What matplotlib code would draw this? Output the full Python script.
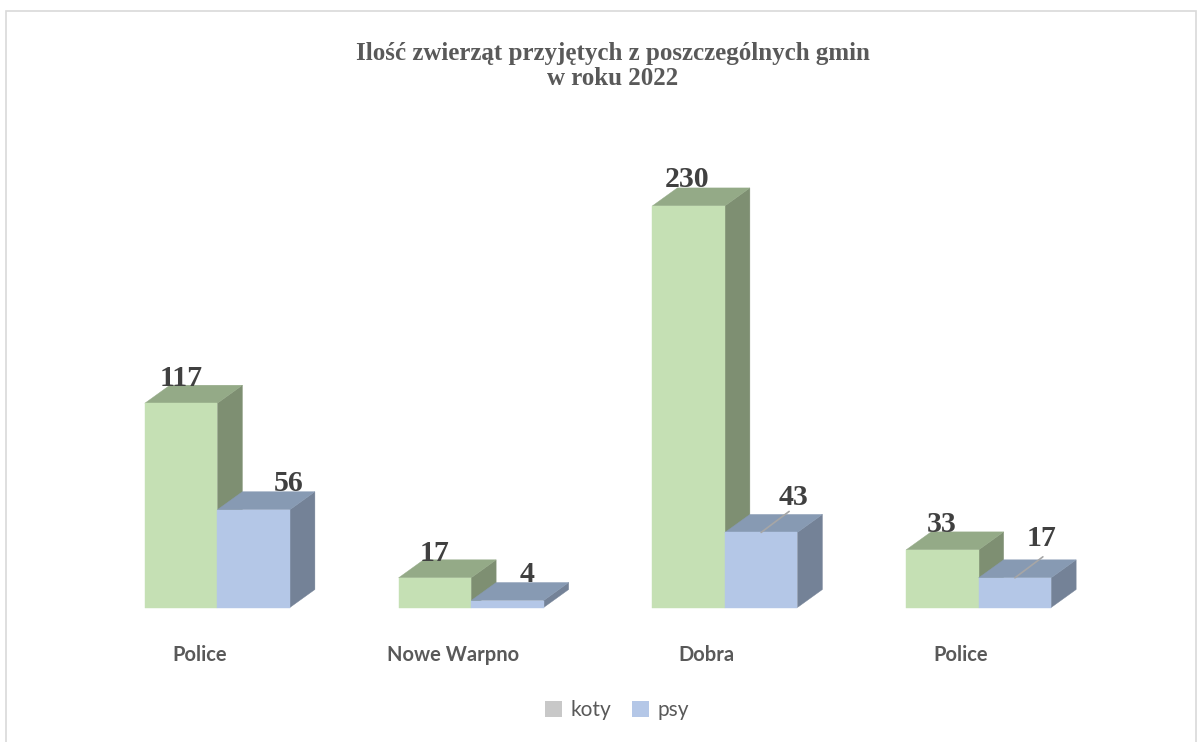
import matplotlib
matplotlib.use("Agg")
import matplotlib.pyplot as plt
from matplotlib.patches import Polygon, Patch, Rectangle
from matplotlib.transforms import ScaledTranslation

gminy = ["Police", "Nowe Warpno", "Dobra", "Police"]
koty = [117, 17, 230, 33]
psy = [56, 4, 43, 17]

W, H = 1203, 742
BAR_W = 72.5 / 253.7
DX = 25 / 253.7
DY = 18 / 1.746

GREEN = ("#C5E0B4", "#94AA87", "#7E8F72")
BLUE = ("#B4C7E7", "#879AB3", "#748297")


def draw_bar(ax, x0, val, colors):
    front, top, side = colors
    x1 = x0 + BAR_W
    faces = [
        ([(x1, 0), (x1 + DX, DY), (x1 + DX, val + DY), (x1, val)], side),
        ([(x0, val), (x1, val), (x1 + DX, val + DY), (x0 + DX, val + DY)], top),
        ([(x0, 0), (x1, 0), (x1, val), (x0, val)], front),
    ]
    for pts, c in faces:
        ax.add_patch(Polygon(pts, closed=True, facecolor=c, edgecolor=c, linewidth=0.3, clip_on=False))


def label(ax, x, val, off):
    ax.annotate(str(val), (x, val), xytext=off, textcoords="offset pixels", ha="center", va="baseline",
                family="Liberation Serif", weight="bold", fontsize=21.5, color="#404040")


fig = plt.figure(figsize=(W / 100, H / 100), dpi=100)
fig.add_artist(Rectangle((5.5 / W, -0.01), (1196 - 5.5) / W, 1.01 - 11 / H, transform=fig.transFigure,
                         facecolor="none", edgecolor="#D9D9D9", linewidth=1.2))

ax = fig.add_axes([90.5 / W, 1 - 607.5 / H, 1015 / W, 436.5 / H])
ax.set_xlim(-0.5, 3.5)
ax.set_ylim(0, 250)
ax.axis("on")
ax.patch.set_visible(False)
for s in ax.spines.values():
    s.set_visible(False)

# przesuniecia etykiet w pikselach
off_koty = [(0, 17), (0, 17), (-1.5, 19), (-1, 18)]
off_psy = [(34.5, 19), (20, 18.5), (32, 27.5), (26.5, 32)]

for i in range(len(gminy)):
    draw_bar(ax, i - BAR_W, koty[i], GREEN)
    draw_bar(ax, i, psy[i], BLUE)
    label(ax, i - BAR_W / 2, koty[i], off_koty[i])
    label(ax, i + BAR_W / 2, psy[i], off_psy[i])

# linie odniesienia
for i in [2, 3]:
    ax.annotate("", (i + BAR_W / 2, psy[i]), xytext=(28, 21), textcoords="offset pixels",
                arrowprops=dict(arrowstyle="-", color="#A6A6A6", lw=1.2, shrinkA=0, shrinkB=0))

ax.set_yticks([])
ax.set_xticks(range(len(gminy)))
ax.set_xticklabels(gminy, family="Lato", weight="bold", fontsize=14.5, color="#595959")
ax.tick_params(axis="x", length=0, pad=27)
for t in ax.get_xticklabels():
    t.set_transform(t.get_transform() + ScaledTranslation(-18 / 100, 0, fig.dpi_scale_trans))

fig.text(613 / W, 1 - 66 / H, "Ilość zwierząt przyjętych z poszczególnych gmin\nw roku 2022", ha="center", va="center",
         family="Liberation Serif", weight="bold", fontsize=18, color="#595959", linespacing=1.1)

handles = [Patch(facecolor="#C8C8C8", label="koty"), Patch(facecolor=BLUE[0], label="psy")]
fig.legend(handles=handles, loc="center", bbox_to_anchor=(617 / W, 1 - 710 / H), ncol=2, frameon=False,
           prop=dict(family="Lato", size=15), labelcolor="#595959", handlelength=0.8, handleheight=0.8,
           handletextpad=0.4, columnspacing=1.0, borderpad=0)

fig.savefig("out.png", dpi=100)
